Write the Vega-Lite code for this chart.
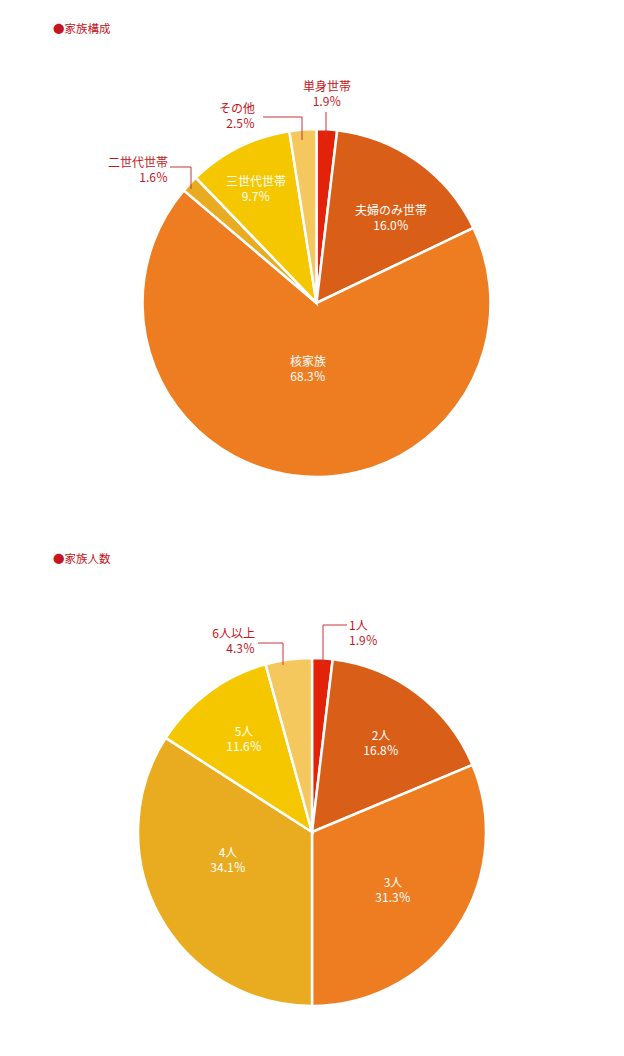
{
  "$schema": "https://vega.github.io/schema/vega-lite/v6.json",
  "width": 624,
  "height": 1056,
  "autosize": {"type": "fit", "contains": "padding"},
  "padding": 0,
  "background": "#ffffff",
  "config": {"view": {"stroke": null}, "text": {"font": "Noto Sans CJK JP", "fontSize": 12}},
  "datasets": {
    "slices": [
      {"pie": 1, "order": 1, "name": "単身世帯", "value": 1.9, "pct": "1.9％", "pos": "outc", "lx": 327, "ly": 94.5},
      {"pie": 1, "order": 2, "name": "夫婦のみ世帯", "value": 16.0, "pct": "16.0％", "pos": "in", "lx": 391, "ly": 218.5},
      {"pie": 1, "order": 3, "name": "核家族", "value": 68.3, "pct": "68.3％", "pos": "in", "lx": 308, "ly": 369.5},
      {"pie": 1, "order": 4, "name": "二世代世帯", "value": 1.6, "pct": "1.6％", "pos": "outr", "lx": 168, "ly": 170},
      {"pie": 1, "order": 5, "name": "三世代世帯", "value": 9.7, "pct": "9.7％", "pos": "in", "lx": 256, "ly": 189},
      {"pie": 1, "order": 6, "name": "その他", "value": 2.5, "pct": "2.5％", "pos": "outr", "lx": 255, "ly": 116.5},
      {"pie": 2, "order": 1, "name": "1人", "value": 1.9, "pct": "1.9％", "pos": "outl", "lx": 349, "ly": 633.5},
      {"pie": 2, "order": 2, "name": "2人", "value": 16.8, "pct": "16.8％", "pos": "in", "lx": 381, "ly": 743.5},
      {"pie": 2, "order": 3, "name": "3人", "value": 31.3, "pct": "31.3％", "pos": "in", "lx": 393, "ly": 890},
      {"pie": 2, "order": 4, "name": "4人", "value": 34.1, "pct": "34.1％", "pos": "in", "lx": 228, "ly": 860.5},
      {"pie": 2, "order": 5, "name": "5人", "value": 11.6, "pct": "11.6％", "pos": "in", "lx": 244, "ly": 739.5},
      {"pie": 2, "order": 6, "name": "6人以上", "value": 4.3, "pct": "4.3％", "pos": "outr", "lx": 255, "ly": 641}
    ],
    "leaders": [
      {"id": "a", "seq": 1, "x": 326, "y": 112},
      {"id": "a", "seq": 2, "x": 326, "y": 138},
      {"id": "b", "seq": 1, "x": 263, "y": 117},
      {"id": "b", "seq": 2, "x": 302, "y": 117},
      {"id": "b", "seq": 3, "x": 302, "y": 140},
      {"id": "c", "seq": 1, "x": 170, "y": 167},
      {"id": "c", "seq": 2, "x": 191, "y": 167},
      {"id": "c", "seq": 3, "x": 191, "y": 189},
      {"id": "d", "seq": 1, "x": 347, "y": 625},
      {"id": "d", "seq": 2, "x": 323, "y": 625},
      {"id": "d", "seq": 3, "x": 323, "y": 664},
      {"id": "e", "seq": 1, "x": 258, "y": 643},
      {"id": "e", "seq": 2, "x": 283, "y": 643},
      {"id": "e", "seq": 3, "x": 283, "y": 665}
    ],
    "titles": [
      {"t": "●家族構成", "x": 53, "y": 30},
      {"t": "●家族人数", "x": 53, "y": 560}
    ]
  },
  "layer": [
    {
      "data": {"name": "slices"},
      "transform": [
        {"filter": "datum.pie == 1"},
        {"stack": "value", "groupby": ["pie"], "sort": [{"field": "order", "order": "ascending"}], "as": ["t0", "t1"]}
      ],
      "mark": {"type": "arc", "outerRadius": 174, "stroke": "#ffffff", "strokeWidth": 2.5},
      "encoding": {
        "x": {"datum": 316.5, "type": "quantitative", "stack": false, "scale": {"domain": [0, 624], "zero": false, "nice": false}, "axis": null},
        "y": {"datum": 303, "type": "quantitative", "stack": false, "scale": {"domain": [0, 1056], "reverse": true, "zero": false, "nice": false}, "axis": null},
        "theta": {"field": "t0", "type": "quantitative", "scale": {"domain": [0, 100]}},
        "theta2": {"field": "t1"},
        "color": {"field": "order", "type": "nominal", "scale": {"domain": [1, 2, 3, 4, 5, 6], "range": ["#E3220A", "#D95E17", "#EE7D22", "#E9AC21", "#F4C700", "#F5C85E"]}, "legend": null}
      }
    },
    {
      "data": {"name": "slices"},
      "transform": [
        {"filter": "datum.pie == 2"},
        {"stack": "value", "groupby": ["pie"], "sort": [{"field": "order", "order": "ascending"}], "as": ["t0", "t1"]}
      ],
      "mark": {"type": "arc", "outerRadius": 174, "stroke": "#ffffff", "strokeWidth": 2.5},
      "encoding": {
        "x": {"datum": 312, "type": "quantitative", "stack": false},
        "y": {"datum": 832, "type": "quantitative", "stack": false},
        "theta": {"field": "t0", "type": "quantitative"},
        "theta2": {"field": "t1"},
        "color": {"field": "order", "type": "nominal", "legend": null}
      }
    },
    {
      "data": {"name": "leaders"},
      "mark": {"type": "line", "color": "#C8343A", "strokeWidth": 1, "interpolate": "linear"},
      "encoding": {
        "x": {"field": "x", "type": "quantitative"},
        "y": {"field": "y", "type": "quantitative"},
        "detail": {"field": "id"},
        "order": {"field": "seq"}
      }
    },
    {
      "data": {"name": "slices"},
      "transform": [{"filter": "datum.pos == 'in'"}],
      "mark": {"type": "text", "color": "#ffffff", "align": "center", "baseline": "middle", "dy": -7.5},
      "encoding": {"x": {"field": "lx", "type": "quantitative"}, "y": {"field": "ly", "type": "quantitative"}, "text": {"field": "name"}}
    },
    {
      "data": {"name": "slices"},
      "transform": [{"filter": "datum.pos == 'in'"}],
      "mark": {"type": "text", "color": "#ffffff", "align": "center", "baseline": "middle", "dy": 7.5},
      "encoding": {"x": {"field": "lx", "type": "quantitative"}, "y": {"field": "ly", "type": "quantitative"}, "text": {"field": "pct"}}
    },
    {
      "data": {"name": "slices"},
      "transform": [{"filter": "datum.pos == 'outc'"}],
      "mark": {"type": "text", "color": "#C4161C", "align": "center", "baseline": "middle", "dy": -7.5},
      "encoding": {"x": {"field": "lx", "type": "quantitative"}, "y": {"field": "ly", "type": "quantitative"}, "text": {"field": "name"}}
    },
    {
      "data": {"name": "slices"},
      "transform": [{"filter": "datum.pos == 'outc'"}],
      "mark": {"type": "text", "color": "#C4161C", "align": "center", "baseline": "middle", "dy": 7.5},
      "encoding": {"x": {"field": "lx", "type": "quantitative"}, "y": {"field": "ly", "type": "quantitative"}, "text": {"field": "pct"}}
    },
    {
      "data": {"name": "slices"},
      "transform": [{"filter": "datum.pos == 'outr'"}],
      "mark": {"type": "text", "color": "#C4161C", "align": "right", "baseline": "middle", "dy": -7.5},
      "encoding": {"x": {"field": "lx", "type": "quantitative"}, "y": {"field": "ly", "type": "quantitative"}, "text": {"field": "name"}}
    },
    {
      "data": {"name": "slices"},
      "transform": [{"filter": "datum.pos == 'outr'"}],
      "mark": {"type": "text", "color": "#C4161C", "align": "right", "baseline": "middle", "dy": 7.5},
      "encoding": {"x": {"field": "lx", "type": "quantitative"}, "y": {"field": "ly", "type": "quantitative"}, "text": {"field": "pct"}}
    },
    {
      "data": {"name": "slices"},
      "transform": [{"filter": "datum.pos == 'outl'"}],
      "mark": {"type": "text", "color": "#C4161C", "align": "left", "baseline": "middle", "dy": -7.5},
      "encoding": {"x": {"field": "lx", "type": "quantitative"}, "y": {"field": "ly", "type": "quantitative"}, "text": {"field": "name"}}
    },
    {
      "data": {"name": "slices"},
      "transform": [{"filter": "datum.pos == 'outl'"}],
      "mark": {"type": "text", "color": "#C4161C", "align": "left", "baseline": "middle", "dy": 7.5},
      "encoding": {"x": {"field": "lx", "type": "quantitative"}, "y": {"field": "ly", "type": "quantitative"}, "text": {"field": "pct"}}
    },
    {
      "data": {"name": "titles"},
      "mark": {"type": "text", "color": "#C4161C", "align": "left", "baseline": "middle", "fontSize": 11.5},
      "encoding": {"x": {"field": "x", "type": "quantitative"}, "y": {"field": "y", "type": "quantitative"}, "text": {"field": "t"}}
    }
  ]
}
